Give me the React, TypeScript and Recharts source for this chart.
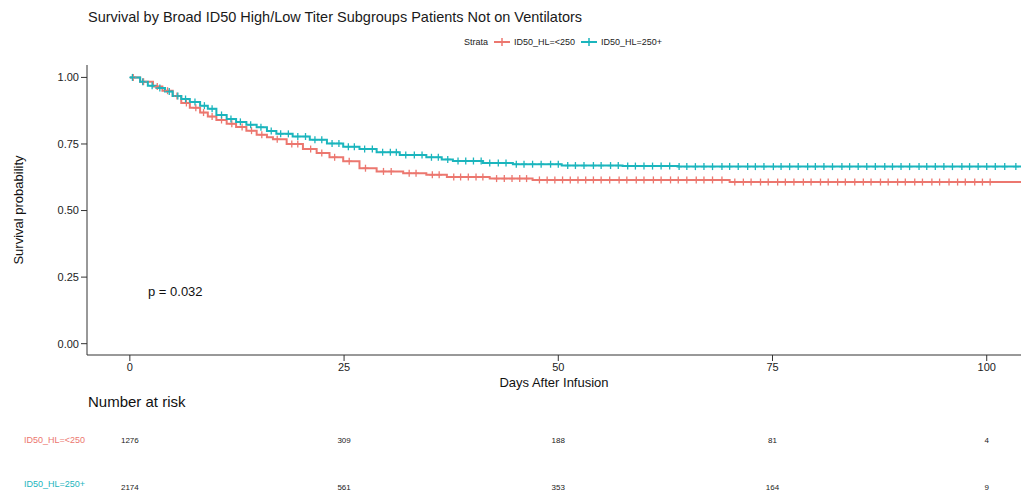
import {
  ComposedChart,
  ScatterChart,
  Line,
  Scatter,
  XAxis,
  YAxis,
  Legend,
} from "recharts";

// Kaplan-Meier step points
const lowTimes = [0, 1.2, 2.7, 3.8, 5, 6, 7, 8.2, 9.1, 10.1, 11.3, 12.4, 13.6, 14.8, 16, 16.7, 18.3, 20.2, 21.8, 23.3, 24.9, 26.8, 28.8, 31.9, 34.6, 37, 42, 47, 70, 104];
const lowSurv = [1, 0.984, 0.966, 0.95, 0.93, 0.904, 0.886, 0.868, 0.853, 0.84, 0.826, 0.814, 0.8, 0.785, 0.775, 0.768, 0.75, 0.731, 0.716, 0.7, 0.685, 0.659, 0.647, 0.64, 0.634, 0.626, 0.62, 0.615, 0.607, 0.607];

const highTimes = [0, 1.2, 2.1, 3.1, 4.1, 5, 6, 7, 8.2, 9.1, 10.1, 11.3, 12.4, 13.6, 14.8, 16, 17.1, 19, 21, 23, 24.9, 26.8, 28.8, 31.5, 34.6, 36.4, 37.7, 41.2, 44.7, 50.4, 57.5, 64, 104];
const highSurv = [1, 0.984, 0.969, 0.96, 0.947, 0.93, 0.919, 0.908, 0.894, 0.882, 0.859, 0.844, 0.833, 0.822, 0.813, 0.799, 0.788, 0.778, 0.766, 0.752, 0.74, 0.731, 0.719, 0.709, 0.7, 0.692, 0.686, 0.679, 0.674, 0.669, 0.667, 0.665, 0.665];

// censoring ticks (days)
const lowCensor = [0.4, 1.6, 3.2, 4.4, 5.5, 6.6, 7.7, 8.6, 9.6, 10.7, 11.9, 13.1, 14.2, 15.4, 17.2, 18.9, 19.6, 21.1, 22.4, 23.9, 25.6, 27.5, 29.6, 30.5, 32.6, 33.4, 35.3, 36.1, 37.8, 38.6, 39.5, 40.4, 41.2, 42.8, 43.7, 44.6, 45.5, 46.3, 47.8, 48.7, 49.6, 50.5, 51.4, 52.3, 53.2, 54.1, 55.0, 56.0, 57.1, 58.0, 59.1, 60.0, 61.1, 62.0, 63.1, 64.0, 65.0, 66.1, 67.0, 68.0, 69.1, 70.6, 71.6, 72.5, 73.6, 74.5, 75.6, 76.5, 77.5, 78.6, 79.5, 80.6, 81.5, 82.6, 83.5, 84.6, 85.6, 86.5, 87.6, 88.5, 89.6, 90.5, 91.6, 92.5, 93.6, 94.5, 95.6, 96.6, 97.5, 98.6, 99.5, 100.4];
const highCensor = [0.3, 1.5, 2.6, 3.5, 4.6, 5.6, 6.5, 7.6, 8.7, 9.6, 10.7, 11.8, 12.9, 14.1, 15.3, 16.5, 17.6, 18.5, 19.6, 20.5, 21.6, 22.4, 23.6, 24.4, 25.5, 26.2, 27.4, 28.3, 29.5, 30.4, 31.1, 32.2, 33.2, 34.1, 35.2, 36.0, 37.1, 38.3, 39.2, 40.1, 41.0, 42.0, 43.0, 43.9, 45.1, 46.0, 47.0, 48.0, 49.1, 50.0, 51.1, 52.0, 53.0, 54.1, 55.0, 56.1, 57.0, 58.1, 59.0, 60.0, 61.0, 62.0, 63.0, 64.1, 65.0, 66.0, 67.0, 68.0, 69.1, 70.0, 71.0, 72.1, 73.0, 74.0, 75.1, 76.0, 77.0, 78.0, 79.1, 80.0, 81.0, 82.0, 83.1, 84.0, 85.0, 86.0, 87.0, 88.1, 89.0, 90.0, 91.0, 92.1, 93.0, 94.0, 95.0, 96.0, 97.1, 98.0, 99.0, 100.0, 101.0, 102.1, 103.4];

// number at risk table
const riskDays = [0, 25, 50, 75, 100];
const riskLow = [1276, 309, 188, 81, 4];
const riskHigh = [2174, 561, 353, 164, 9];

const dayTicks = [0, 25, 50, 75, 100];
const survTicks = [0, 0.25, 0.5, 0.75, 1];

const RED = "#EC776F";
const TEAL = "#1BB5BD";
const FONT = "'Liberation Sans', Arial, sans-serif";

// value of the step function at time t
const survAt = (times: number[], surv: number[], t: number) => {
  let v = surv[0];
  for (let i = 0; i < times.length; i++) {
    if (times[i] <= t) v = surv[i];
  }
  return v;
};

const toSteps = (times: number[], surv: number[]) =>
  times.map((t, i) => ({ t, s: surv[i] }));

const toCensor = (cens: number[], times: number[], surv: number[]) =>
  cens.map((t) => ({ t, s: survAt(times, surv, t) }));

const lowSteps = toSteps(lowTimes, lowSurv);
const highSteps = toSteps(highTimes, highSurv);
const lowMarks = toCensor(lowCensor, lowTimes, lowSurv);
const highMarks = toCensor(highCensor, highTimes, highSurv);

const riskRows = [
  ...riskDays.map((t, i) => ({ t, row: 1, n: riskLow[i], color: RED })),
  ...riskDays.map((t, i) => ({ t, row: 2, n: riskHigh[i], color: TEAL })),
];
const rowNames = ["", "ID50_HL=<250", "ID50_HL=250+"];
const rowColors = ["", RED, TEAL];

const censorShape = (color: string) => (props: any) => {
  const { cx, cy } = props;
  if (cx == null || cy == null) return <g />;
  return (
    <g stroke={color} strokeWidth={1.3}>
      <line x1={cx - 3} y1={cy} x2={cx + 3} y2={cy} />
      <line x1={cx} y1={cy - 3.5} x2={cx} y2={cy + 3.5} />
    </g>
  );
};

const LegendIcon = ({ color }: { color: string }) => (
  <svg width={16} height={10} style={{ margin: "0 4px 0 6px" }}>
    <line x1={0} y1={5} x2={16} y2={5} stroke={color} strokeWidth={2} />
    <line x1={8} y1={1} x2={8} y2={9} stroke={color} strokeWidth={1.5} />
  </svg>
);

const renderLegend = () => (
  <div style={{ display: "flex", alignItems: "center", fontSize: 9, color: "#222", fontFamily: FONT }}>
    <span>Strata</span>
    <LegendIcon color={RED} />
    <span>ID50_HL=&lt;250</span>
    <LegendIcon color={TEAL} />
    <span>ID50_HL=250+</span>
  </div>
);

const RiskTick = (props: any) => {
  const { y, payload } = props;
  const v = payload.value as number;
  return (
    <text x={24} y={y} dy={3} fontSize={9} fill={rowColors[v]} textAnchor="start" fontFamily={FONT}>
      {rowNames[v]}
    </text>
  );
};

const riskShape = (props: any) => {
  const { cx, cy, payload } = props;
  return (
    <text x={cx} y={cy} dy={3} fontSize={8} fill="#222" textAnchor="middle" fontFamily={FONT}>
      {payload.n}
    </text>
  );
};

export default function App() {
  return (
    <div style={{ position: "absolute", left: 0, top: 0, width: 1021, height: 493, background: "#fff", fontFamily: FONT, overflow: "hidden" }}>
      <div style={{ position: "absolute", left: 88, top: 9, fontSize: 14.5, color: "#1a1a1a", whiteSpace: "nowrap" }}>
        Survival by Broad ID50 High/Low Titer Subgroups Patients Not on Ventilators
      </div>
      <div style={{ position: "absolute", left: 148, top: 284, fontSize: 13, color: "#111", zIndex: 2 }}>
        p = 0.032
      </div>
      <ComposedChart width={1021} height={395} margin={{ top: 65, right: 0, bottom: 0, left: 0 }}>
        <XAxis
          type="number"
          dataKey="t"
          domain={[-5, 104]}
          ticks={dayTicks}
          allowDataOverflow
          height={40}
          axisLine={{ stroke: "#333" }}
          tickLine={{ stroke: "#333" }}
          tick={{ fontSize: 11, fill: "#222" }}
          label={{ value: "Days After Infusion", position: "insideBottom", offset: 8, style: { fontSize: 13, fill: "#111" } }}
        />
        <YAxis
          type="number"
          domain={[-0.0425, 1.0466]}
          ticks={survTicks}
          allowDataOverflow
          width={87}
          tickFormatter={(v: number) => v.toFixed(2)}
          axisLine={{ stroke: "#333" }}
          tickLine={{ stroke: "#333" }}
          tick={{ fontSize: 11, fill: "#222" }}
          label={{ value: "Survival probability", angle: -90, position: "insideLeft", offset: 18, style: { fontSize: 13, fill: "#111", textAnchor: "middle" } }}
        />
        <Legend
          layout="horizontal"
          verticalAlign="middle"
          align="center"
          content={renderLegend}
          wrapperStyle={{ position: "absolute", top: 37, left: 464, width: "auto", height: 12 }}
        />
        <Line data={lowSteps} dataKey="s" name="ID50_HL=<250" type="stepAfter" stroke={RED} strokeWidth={2} dot={false} isAnimationActive={false} />
        <Line data={highSteps} dataKey="s" name="ID50_HL=250+" type="stepAfter" stroke={TEAL} strokeWidth={2} dot={false} isAnimationActive={false} />
        <Scatter data={lowMarks} dataKey="s" legendType="none" shape={censorShape(RED)} isAnimationActive={false} />
        <Scatter data={highMarks} dataKey="s" legendType="none" shape={censorShape(TEAL)} isAnimationActive={false} />
      </ComposedChart>
      <div style={{ position: "absolute", left: 88, top: 393, fontSize: 15, color: "#111" }}>Number at risk</div>
      <div style={{ position: "absolute", left: 0, top: 393 }}>
        <ScatterChart width={1021} height={100} margin={{ top: 0, right: 0, bottom: 0, left: 0 }}>
          <XAxis type="number" dataKey="t" domain={[-5, 104]} hide allowDataOverflow />
          <YAxis
            type="number"
            dataKey="row"
            domain={[0, 100 / 47]}
            ticks={[1, 2]}
            reversed
            width={87}
            axisLine={false}
            tickLine={false}
            tick={<RiskTick />}
          />
          <Scatter data={riskRows} shape={riskShape} isAnimationActive={false} />
        </ScatterChart>
      </div>
    </div>
  );
}
